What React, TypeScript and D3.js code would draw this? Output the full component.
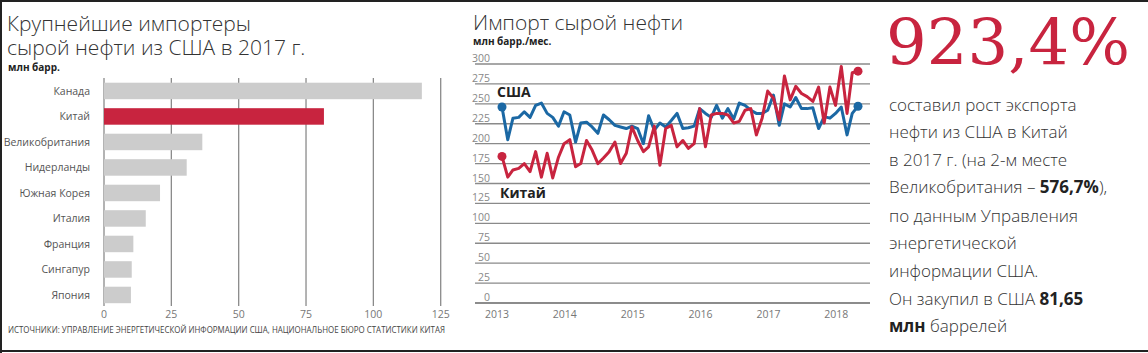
import * as d3 from "d3";

// --- bar chart data: largest importers of US crude, 2017 (mln bbl)
const countries = ["Канада", "Китай", "Великобритания", "Нидерланды", "Южная Корея", "Италия", "Франция", "Сингапур", "Япония"];
const imports2017 = [118, 81.65, 36.5, 30.7, 20.8, 15.5, 10.9, 10.3, 10.0];
const barTicks = [0, 25, 50, 75, 100, 125];

// --- line chart data: monthly crude imports, Jan 2013 .. Apr 2018 (mln bbl/month)
const months = d3.timeMonth.range(new Date(2013, 0, 1), new Date(2018, 4, 1));
const usaImports = [
  246, 205, 232, 233, 240, 233, 248, 251, 238, 233, 222, 240,
  236, 202, 226, 227, 221, 213, 236, 230, 223, 221, 219, 222,
  219, 200, 235, 217, 226, 221, 229, 238, 219, 220, 222, 244,
  238, 233, 248, 232, 244, 231, 251, 248, 242, 238, 238, 242,
  261, 223, 250, 246, 258, 244, 244, 245, 219, 234, 232, 238,
  246, 211, 238, 247,
];
const chinaImports = [
  184, 158, 167, 169, 175, 165, 190, 158, 188, 157, 183, 200,
  205, 171, 175, 204, 192, 175, 182, 190, 202, 175, 188, 221,
  204, 190, 196, 222, 173, 219, 223, 196, 204, 194, 200, 244,
  196, 236, 238, 238, 236, 226, 228, 242, 244, 211, 232, 266,
  257, 230, 285, 255, 272, 263, 259, 253, 271, 226, 271, 248,
  297, 238, 289, 291,
];
const lineTicks = [0, 25, 50, 75, 100, 125, 150, 175, 200, 225, 250, 275, 300];
const yearTicks = [2013, 2014, 2015, 2016, 2017, 2018];

const RED = "#c8243f";
const BLUE = "#1b68a4";
const GRAY_BAR = "#cccccc";
const GRID = "#8a8a8a";
const SANS = "'Open Sans', 'Noto Sans', sans-serif";

const App = () => {
  // bar chart scales
  const xBar = d3.scaleLinear().domain([0, 125]).range([104, 440.7]);
  const yBar = d3.scaleBand().domain(countries).range([77.6, 308.3]).paddingInner(0.353).paddingOuter(0.2);

  // line chart scales
  const xLine = d3.scaleTime().domain([months[0], months[months.length - 1]]).range([502, 858]);
  const yLine = d3.scaleLinear().domain([0, 300]).range([303, 64]);

  const line = d3
    .line<number>()
    .x((_, i) => xLine(months[i]))
    .y((d) => yLine(d));

  const last = months.length - 1;

  return (
    <svg width={1148} height={353} style={{ position: "absolute", left: 0, top: 0, background: "#fff" }}>
      {/* frame */}
      <line x1={0} x2={1148} y1={1} y2={1} stroke="#222" strokeWidth={2} />
      <line x1={1} x2={1} y1={0} y2={353} stroke="#222" strokeWidth={2} />
      <line x1={0} x2={1148} y1={351} y2={351} stroke="#222" strokeWidth={2} />

      {/* ---------- left: bar chart ---------- */}
      <g fontFamily={SANS}>
        <text x={7} y={31} fontSize={21} fontWeight={300} fill="#333">Крупнейшие импортеры</text>
        <text x={7} y={55} fontSize={21} fontWeight={300} fill="#333">сырой нефти из США в 2017 г.</text>
        <text x={8} y={71} fontSize={10} fontWeight={700} fill="#222">млн барр.</text>

        {barTicks.map((t) => (
          <g key={t}>
            <line x1={xBar(t)} x2={xBar(t)} y1={78} y2={306} stroke={GRID} strokeWidth={1.3} />
            <text x={xBar(t)} y={318} fontSize={10.5} fill="#777" textAnchor="middle">{t}</text>
          </g>
        ))}

        {countries.map((c, i) => (
          <g key={c}>
            <rect
              x={xBar(0)}
              y={yBar(c)}
              width={xBar(imports2017[i]) - xBar(0)}
              height={yBar.bandwidth()}
              fill={c === "Китай" ? RED : GRAY_BAR}
            />
            <text
              x={90}
              y={(yBar(c) ?? 0) + yBar.bandwidth() / 2}
              dy="0.35em"
              fontSize={10.5}
              fill="#555"
              textAnchor="end"
            >
              {c}
            </text>
          </g>
        ))}

        <text x={8} y={333} fontSize={8.5} fill="#444" textLength={437} lengthAdjust="spacingAndGlyphs">
          ИСТОЧНИКИ: УПРАВЛЕНИЕ ЭНЕРГЕТИЧЕСКОЙ ИНФОРМАЦИИ США, НАЦИОНАЛЬНОЕ БЮРО СТАТИСТИКИ КИТАЯ
        </text>
      </g>

      {/* ---------- middle: line chart ---------- */}
      <g fontFamily={SANS}>
        <text x={473} y={30} fontSize={21} fontWeight={300} fill="#333">Импорт сырой нефти</text>
        <text x={473} y={45} fontSize={10} fontWeight={700} fill="#222">млн барр./мес.</text>

        {lineTicks.map((t) => (
          <g key={t}>
            <line x1={475} x2={870} y1={yLine(t)} y2={yLine(t)} stroke={t === 0 ? "#666" : GRID} strokeWidth={1.4} />
            <text x={490} y={yLine(t) - 2} fontSize={10.5} fill="#888" textAnchor="end">{t}</text>
          </g>
        ))}

        {yearTicks.map((yr) => (
          <text key={yr} x={xLine(new Date(yr, 0, 1)) - 5} y={318} fontSize={10.5} fill="#777" textAnchor="middle">
            {yr}
          </text>
        ))}

        <path d={line(usaImports) ?? ""} fill="none" stroke={BLUE} strokeWidth={3} strokeLinejoin="round" />
        <path d={line(chinaImports) ?? ""} fill="none" stroke={RED} strokeWidth={3} strokeLinejoin="round" />
        <circle cx={xLine(months[0])} cy={yLine(usaImports[0])} r={4.5} fill={BLUE} />
        <circle cx={xLine(months[last])} cy={yLine(usaImports[last])} r={4.5} fill={BLUE} />
        <circle cx={xLine(months[0])} cy={yLine(chinaImports[0])} r={4.5} fill={RED} />
        <circle cx={xLine(months[last])} cy={yLine(chinaImports[last])} r={4.5} fill={RED} />

        <text x={497} y={97} fontSize={14} fontWeight={700} fill="#222">США</text>
        <text x={500} y={198} fontSize={14} fontWeight={700} fill="#222">Китай</text>
      </g>

      {/* ---------- right: headline figure ---------- */}
      <text x={886} y={65} fontFamily="'DejaVu Serif', serif" fontSize={64} fill={RED}>923,4%</text>
      <g fontFamily={SANS} fontSize={17} fill="#333" fontWeight={300}>
        <text x={889} y={111}>составил рост экспорта</text>
        <text x={889} y={138}>нефти из США в Китай</text>
        <text x={889} y={166}>в 2017 г. (на 2-м месте</text>
        <text x={889} y={193}>
          Великобритания – <tspan fontWeight={700} fill="#222">576,7%</tspan>),
        </text>
        <text x={889} y={222}>по данным Управления</text>
        <text x={889} y={249}>энергетической</text>
        <text x={889} y={277}>информации США.</text>
        <text x={889} y={305}>
          Он закупил в США <tspan fontWeight={700} fill="#222">81,65</tspan>
        </text>
        <text x={889} y={332}>
          <tspan fontWeight={700} fill="#222">млн</tspan> баррелей
        </text>
      </g>
    </svg>
  );
};

export default App;
